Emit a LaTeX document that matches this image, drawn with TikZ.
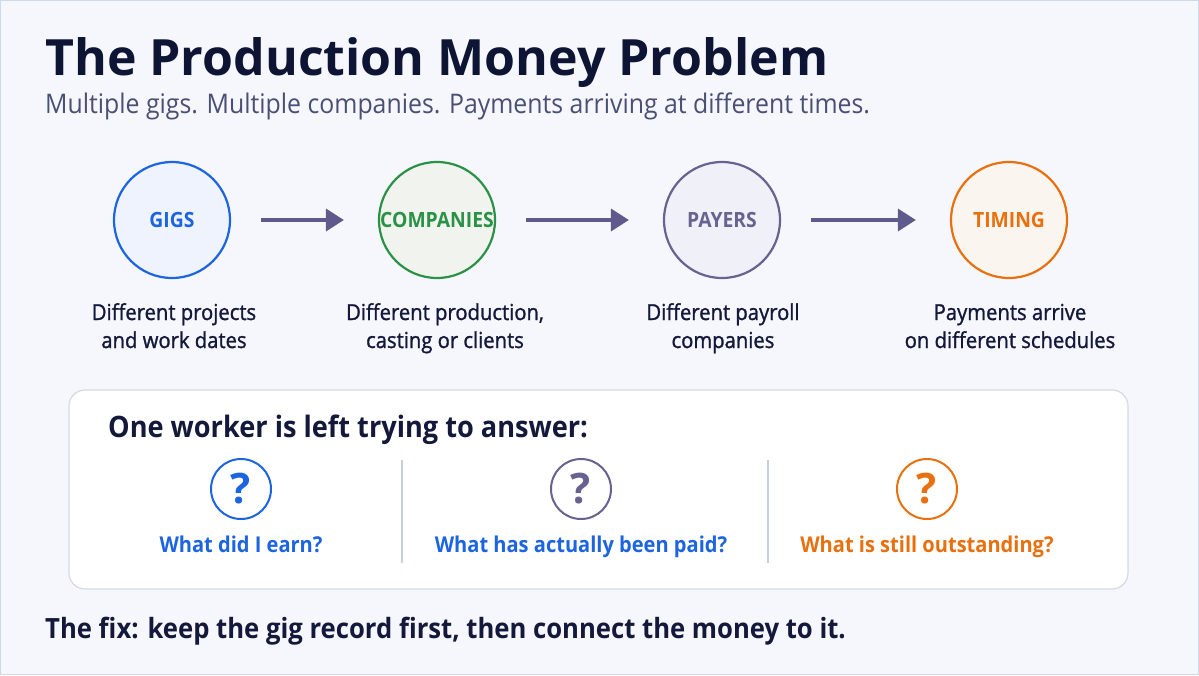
\documentclass[tikz,border=0pt]{standalone}
\usepackage{fontspec}
\setmainfont{Open Sans}[FakeStretch=0.92]
\newfontfamily\titlefont{Open Sans}
\newfontfamily\medfont{Open Sans}[FakeStretch=0.92, FakeBold=1.2]
\usetikzlibrary{arrows.meta}
\definecolor{bgc}{HTML}{F5F7FC}
\definecolor{bordc}{HTML}{D2D9E6}
\definecolor{titlec}{HTML}{0E1433}
\definecolor{subc}{HTML}{4A4F73}
\definecolor{darkc}{HTML}{14183A}
\definecolor{cblue}{HTML}{1C64E0}
\definecolor{cgreen}{HTML}{2A9146}
\definecolor{cpurple}{HTML}{67628F}
\definecolor{corange}{HTML}{E8700E}
\definecolor{arrowc}{HTML}{5F5A8C}
\definecolor{fblue}{HTML}{EEF3FD}
\definecolor{fgreen}{HTML}{F1F4EE}
\definecolor{fpurple}{HTML}{EFF0F8}
\definecolor{forange}{HTML}{FAF5EF}
\definecolor{boxc}{HTML}{D3D9E6}
\definecolor{sepc}{HTML}{C8D0DE}
\tikzset{
  stage/.style={circle, minimum size=116pt, inner sep=0pt, line width=2.2pt,
    font=\bfseries\fontsize{21}{24}\selectfont},
  flow/.style={draw=arrowc, line width=3.6pt, -{Triangle[length=18pt,width=22pt]},
    shorten <=30pt, shorten >=34pt},
  desc/.style={anchor=base, align=center, text=darkc, inner sep=0pt,
    font=\medfont\fontsize{22}{28}\selectfont},
  qcirc/.style={circle, minimum size=60pt, inner sep=0pt, line width=2pt, fill=white,
    font=\titlefont\bfseries\fontsize{42}{44}\selectfont},
  qlabel/.style={anchor=base, inner sep=0pt, font=\bfseries\fontsize{21.8}{26}\selectfont},
  sepline/.style={draw=sepc, line width=1.2pt},
}
\begin{document}
\begin{tikzpicture}[x=1pt,y=-1pt]
\fill[bgc] (0,0) rectangle (1199,675);
\draw[bordc, line width=1pt] (0.5,0.5) rectangle (1198.5,674.5);
\useasboundingbox (0,0) rectangle (1199,675);

\node[anchor=base west, inner sep=0pt, text=titlec, font=\titlefont\bfseries\fontsize{50}{56}\selectfont] (title) at (45,75) {The Production Money Problem};
\node[anchor=base west, inner sep=0pt, text=subc, font=\fontsize{27}{30}\selectfont] (sub) at (45,113) {Multiple gigs. Multiple companies. Payments arriving at different times.};

\node[stage, draw=cblue, fill=fblue, text=cblue] (gigs) at (172,220) {GIGS};
\node[stage, draw=cgreen, fill=fgreen, text=cgreen] (comp) at (437,220) {COMPANIES};
\node[stage, draw=cpurple, fill=fpurple, text=cpurple] (pay) at (722,220) {PAYERS};
\node[stage, draw=corange, fill=forange, text=corange] (time) at (1009,220) {TIMING};

\draw[flow] (gigs) -- (comp);
\draw[flow] (comp) -- (pay);
\draw[flow] (pay) -- (time);

\node[desc] (gigsd) at (174,348) {Different projects\\and work dates};
\node[desc] (compd) at (445,348) {Different production,\\casting or clients};
\node[desc] (payd) at (723,348) {Different payroll\\companies};
\node[desc] (timed) at (1010,348) {Payments arrive\\on different schedules};

\node[draw=boxc, fill=white, line width=1.2pt, rounded corners=16pt, minimum width=1059pt, minimum height=199pt, inner sep=0pt] (box) at (598.5,489.5) {};
\node[anchor=base west, inner sep=0pt, text=darkc, font=\bfseries\fontsize{29.5}{32}\selectfont] (ask) at (108,437) {One worker is left trying to answer:};

\draw[sepline] (402,460) -- (402,563);
\draw[sepline] (768,460) -- (768,563);

\node[qcirc, draw=cblue, text=cblue] (q1) at (241,489) {?};
\node[qcirc, draw=cpurple, text=cpurple] (q2) at (581,489) {?};
\node[qcirc, draw=corange, text=corange] (q3) at (927,489) {?};

\node[qlabel, text=cblue] (q1l) at (241,552) {What did I earn?};
\node[qlabel, text=cblue] (q2l) at (581,552) {What has actually been paid?};
\node[qlabel, text=corange] (q3l) at (927,552) {What is still outstanding?};

\node[anchor=base west, inner sep=0pt, text=darkc, font=\bfseries\fontsize{27.9}{30}\selectfont] (fix) at (45,638) {The fix: keep the gig record first, then connect the money to it.};
\end{tikzpicture}
\end{document}
